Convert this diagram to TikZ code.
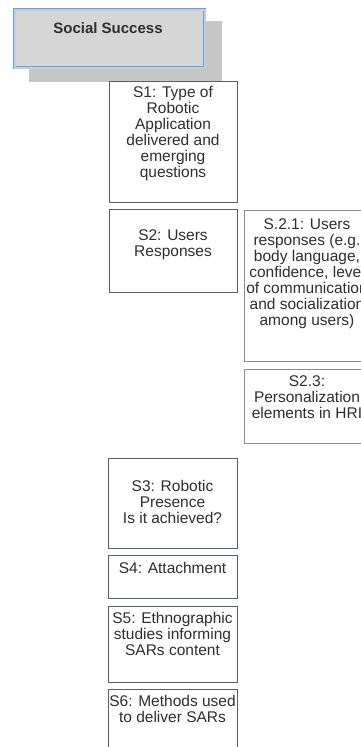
\documentclass[tikz,border=0pt]{standalone}
\usepackage{fontspec}
\setmainfont{Liberation Sans}
\begin{document}
\begin{tikzpicture}[x=1pt,y=-1pt,
  box/.style={draw=boxc,line width=1pt,fill=white,anchor=north west,inner sep=0pt,outer sep=0pt},
  rbox/.style={box,draw=rboxc},
  txt/.style={anchor=north,align=center,inner sep=0pt,text=txtc,font=\fontsize{15.5}{16}\selectfont}
]
\definecolor{boxc}{HTML}{56606C}
\definecolor{rboxc}{HTML}{868C94}
\definecolor{txtc}{HTML}{2E2E2E}
\definecolor{shad}{HTML}{C6C6C6}
\definecolor{ssfill}{HTML}{D6D6D6}
\definecolor{ssblue}{HTML}{7E9CCB}
\definecolor{ssblue2}{HTML}{BCCDE8}
\useasboundingbox (0,0) rectangle (361,747);
\clip (0,0) rectangle (361,747);
% Social Success
\node[fill=shad,anchor=north west,minimum width=193pt,minimum height=61pt,inner sep=0pt] (shadow) at (29,21) {};
\node[fill=ssfill,draw=ssblue,double=ssblue2,double distance=1.6pt,line width=0.7pt,anchor=north west,minimum width=190pt,minimum height=58pt,inner sep=0pt] (ss) at (14.5,9.5) {};
\node[txt,font=\fontsize{15}{16}\selectfont\bfseries] (sst) at (108,22) {Social Success};
% left column
\node[box,minimum width=128pt,minimum height=121pt] (s1) at (109,81) {};
\node[txt] (s1t) at (173,86) {S1: Type of\\Robotic\\Application\\delivered and\\emerging\\questions};
\node[box,minimum width=128pt,minimum height=83pt] (s2) at (109,209) {};
\node[txt] (s2t) at (173,229) {S2: Users\\Responses};
\node[box,minimum width=129pt,minimum height=90pt] (s3) at (108,458) {};
\node[txt] (s3t) at (172.5,480) {S3: Robotic\\Presence\\Is it achieved?};
\node[box,minimum width=129pt,minimum height=43pt] (s4) at (108,555) {};
\node[txt] (s4t) at (172.5,562) {S4: Attachment};
\node[box,minimum width=129pt,minimum height=76pt] (s5) at (108,606) {};
\node[txt] (s5t) at (172.5,612) {S5: Ethnographic\\studies informing\\SARs content};
\node[box,minimum width=129pt,minimum height=70pt] (s6) at (108,689) {};
\node[txt] (s6t) at (172.5,695) {S6: Methods used\\to deliver SARs};
% right column
\node[rbox,minimum width=128pt,minimum height=151pt] (s21) at (244,210) {};
\node[txt] (s21t) at (307,218) {S.2.1: Users\\responses (e.g.\\body language,\\confidence, level\\of communication\\and socialization\\among users)};
\node[rbox,minimum width=128pt,minimum height=74pt] (s23) at (244,369) {};
\node[txt] (s23t) at (307,375) {S2.3:\\Personalization\\elements in HRI};
\end{tikzpicture}
\end{document}
